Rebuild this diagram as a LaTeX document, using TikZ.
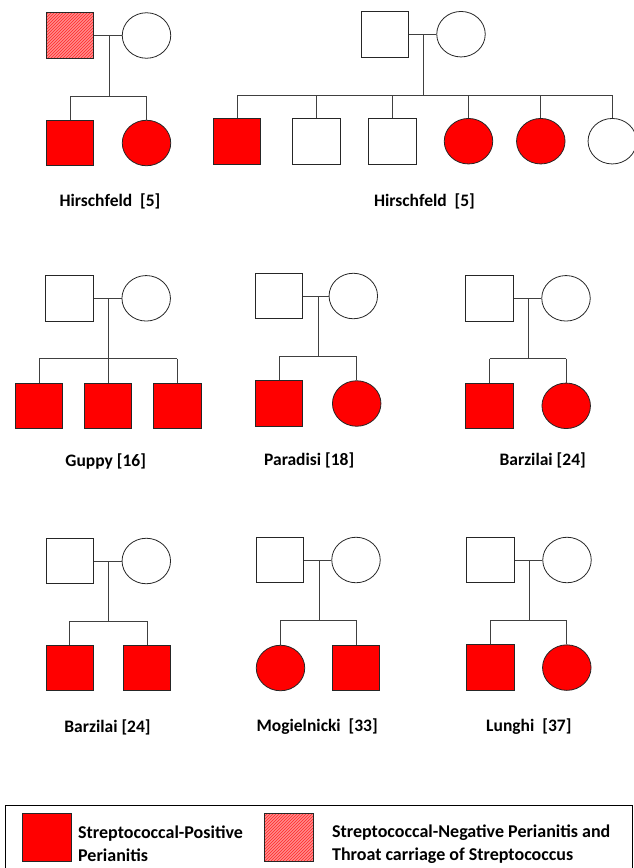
\documentclass[tikz,border=0pt]{standalone}
\usepackage{fontspec}
\setmainfont{Carlito}
\usetikzlibrary{shapes.geometric,patterns}
\tikzset{
  male/.style={draw=black!85, line width=0.8pt, rectangle, minimum width=47.5pt, minimum height=45.5pt, inner sep=0pt},
  female/.style={draw=black!85, line width=0.8pt, ellipse, minimum width=48.5pt, minimum height=45.5pt, inner sep=0pt},
  affected/.style={fill=red},
  carrier/.style={preaction={fill=red!45}, pattern=north east lines, pattern color=red!85},
  link/.style={draw=black!75, line width=0.8pt},
  pedname/.style={font=\fontsize{17.5}{21}\selectfont\bfseries},
  legtext/.style={font=\fontsize{18}{22.6}\selectfont\bfseries, align=left, anchor=west, inner sep=0pt}
}

\begin{document}
\begin{tikzpicture}[x=1pt, y=-1pt]
\useasboundingbox (0,0) rectangle (633,868);

% Hirschfeld, left
\node[male, carrier] (f1) at (70,35.5) {};
\node[female] (m1) at (146.5,35.5) {};
\coordinate (d1) at (109,96.7);
\node[male, affected] (k1a) at (70,143) {};
\node[female, affected] (k1b) at (146.5,143) {};
\draw[link] (f1) -- (m1);
\draw[link] (d1 |- f1) -- (d1);
\draw[link] (k1a.north |- d1) -- (k1b.north |- d1);
\draw[link] (k1a.north |- d1) -- (k1a.north);
\draw[link] (k1b.north |- d1) -- (k1b.north);
\node[pedname] (n1) at (110,201.5) {Hirschfeld~~[5]};

% Hirschfeld, right
\node[male] (f2) at (384.7,34.2) {};
\node[female] (m2) at (461,34.2) {};
\coordinate (d2) at (423.3,95);
\node[male, affected] (k2a) at (237,141.2) {};
\node[male] (k2b) at (316.3,141.2) {};
\node[male] (k2c) at (392.3,141.2) {};
\node[female, affected] (k2d) at (468.5,141.2) {};
\node[female, affected] (k2e) at (540.8,141.2) {};
\node[female] (k2f) at (612.3,141.2) {};
\draw[link] (f2) -- (m2);
\draw[link] (d2 |- f2) -- (d2);
\draw[link] (k2a.north |- d2) -- (k2f.north |- d2);
\foreach \k in {k2a,k2b,k2c,k2d,k2e,k2f}
  \draw[link] (\k.north |- d2) -- (\k.north);
\node[pedname] (n2) at (424.5,201.5) {Hirschfeld~~[5]};

% Guppy
\node[male] (f3) at (69.5,298.3) {};
\node[female] (m3) at (146.2,298.3) {};
\coordinate (d3) at (108.3,358.7);
\node[male, affected] (k3a) at (39,405.8) {};
\node[male, affected] (k3b) at (108,405.8) {};
\node[male, affected] (k3c) at (177.2,405.8) {};
\draw[link] (f3) -- (m3);
\draw[link] (d3 |- f3) -- (d3);
\draw[link] (k3a.north |- d3) -- (k3c.north |- d3);
\foreach \k in {k3a,k3b,k3c}
  \draw[link] (\k.north |- d3) -- (\k.north);
\node[pedname] (n3) at (105.7,461.5) {Guppy [16]};

% Paradisi
\node[male] (f4) at (279,296) {};
\node[female] (m4) at (353.3,296) {};
\coordinate (d4) at (318.3,356.7);
\node[male, affected] (k4a) at (279,403.5) {};
\node[female, affected] (k4b) at (356.7,403.5) {};
\draw[link] (f4) -- (m4);
\draw[link] (d4 |- f4) -- (d4);
\draw[link] (k4a.north |- d4) -- (k4b.north |- d4);
\draw[link] (k4a.north |- d4) -- (k4a.north);
\draw[link] (k4b.north |- d4) -- (k4b.north);
\node[pedname] (n4) at (309.2,460.5) {Paradisi [18]};

% Barzilai, row 2
\node[male] (f5) at (489.5,298.3) {};
\node[female] (m5) at (566,298.3) {};
\coordinate (d5) at (528.7,358.7);
\node[male, affected] (k5a) at (489.5,405.8) {};
\node[female, affected] (k5b) at (566.2,405.8) {};
\draw[link] (f5) -- (m5);
\draw[link] (d5 |- f5) -- (d5);
\draw[link] (k5a.north |- d5) -- (k5b.north |- d5);
\draw[link] (k5a.north |- d5) -- (k5a.north);
\draw[link] (k5b.north |- d5) -- (k5b.north);
\node[pedname] (n5) at (542.7,460.5) {Barzilai [24]};

% Barzilai, row 3
\node[male] (f6) at (69.7,561) {};
\node[female] (m6) at (146.3,561) {};
\coordinate (d6) at (108.7,621);
\node[male, affected] (k6a) at (69.7,668) {};
\node[male, affected] (k6b) at (147,668) {};
\draw[link] (f6) -- (m6);
\draw[link] (d6 |- f6) -- (d6);
\draw[link] (k6a.north |- d6) -- (k6b.north |- d6);
\draw[link] (k6a.north |- d6) -- (k6a.north);
\draw[link] (k6b.north |- d6) -- (k6b.north);
\node[pedname] (n6) at (107.5,727) {Barzilai [24]};

% Mogielnicki
\node[male] (f7) at (280,560) {};
\node[female] (m7) at (356,560) {};
\coordinate (d7) at (319,620);
\node[female, affected] (k7a) at (280.5,668) {};
\node[male, affected] (k7b) at (356,668) {};
\draw[link] (f7) -- (m7);
\draw[link] (d7 |- f7) -- (d7);
\draw[link] (k7a.north |- d7) -- (k7b.north |- d7);
\draw[link] (k7a.north |- d7) -- (k7a.north);
\draw[link] (k7b.north |- d7) -- (k7b.north);
\node[pedname] (n7) at (317.2,727) {Mogielnicki~~[33]};

% Lunghi
\node[male] (f8) at (490.5,560) {};
\node[female] (m8) at (567,560) {};
\coordinate (d8) at (529.7,620);
\node[male, affected] (k8a) at (490.5,667.6) {};
\node[female, affected] (k8b) at (566.8,667.6) {};
\draw[link] (f8) -- (m8);
\draw[link] (d8 |- f8) -- (d8);
\draw[link] (k8a.north |- d8) -- (k8b.north |- d8);
\draw[link] (k8a.north |- d8) -- (k8a.north);
\draw[link] (k8b.north |- d8) -- (k8b.north);
\node[pedname] (n8) at (528.8,727) {Lunghi~~[37]};

% legend
\draw[line width=0.8pt] (5,805) rectangle (632,872);
\node[male, affected, minimum width=49pt, minimum height=48pt] (keypos) at (46.8,837.5) {};
\node[legtext] (txtpos) at (78,844) {Streptococcal-Positive\\Perianitis};
\node[male, carrier, minimum width=49pt, minimum height=48pt] (keyneg) at (288.8,837.5) {};
\node[legtext] (txtneg) at (331.9,844) {Streptococcal-Negative Perianitis and\\Throat carriage of Streptococcus};

\end{tikzpicture}
\end{document}
